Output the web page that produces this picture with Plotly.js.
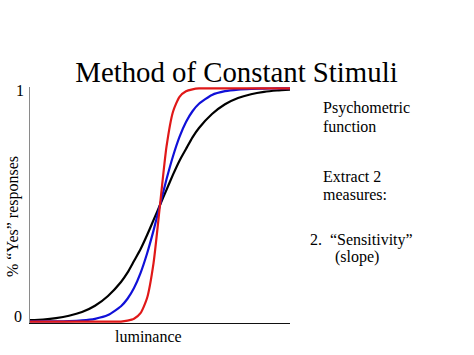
<!DOCTYPE html>
<html><head><meta charset="utf-8">
<script src="https://cdn.plot.ly/plotly-3.0.1.min.js"></script>
<style>html,body{margin:0;padding:0;background:#fff}#chart{width:474px;height:355px}</style>
</head><body><div id="chart"></div>
<script>
const titleText = 'Method of Constant Stimuli';
const xLabel = 'luminance';
const yLabel = '% \u201CYes\u201D responses';
const tickValues = [0, 1];
const tickLabels = ['0', '1'];
const luminance = [0,0.5,1,1.5,2,2.5,3,3.5,3.75,4,4.25,4.5,4.75,5,5.25,5.5,5.75,6,6.25,6.5,7,7.5,8,8.5,9,9.5,10];
const blackCurve = [0.006,0.009,0.015,0.025,0.041,0.068,0.11,0.17,0.21,0.26,0.31,0.37,0.435,0.5,0.565,0.63,0.69,0.74,0.79,0.83,0.89,0.932,0.959,0.975,0.985,0.991,0.995];
const blueCurve = [0.001,0.001,0.001,0.002,0.005,0.012,0.028,0.066,0.098,0.144,0.208,0.291,0.39,0.5,0.61,0.709,0.792,0.856,0.902,0.934,0.972,0.988,0.995,0.998,0.999,1,1];
const redCurve = [0,0,0,0,0,0,0,0,0.004,0.012,0.036,0.1,0.25,0.5,0.75,0.9,0.964,0.988,0.996,1,1,1,1,1,1,1,1];
const sideLines = ['Psychometric', 'function', 'Extract 2', 'measures:', '2.  \u201CSensitivity\u201D', '(slope)'];

const W = 474, H = 355;
const serif = '"Liberation Serif", "Times New Roman", serif';
const sidePos = [[320.5,107.5],[320.5,126],[320.5,176],[320.5,194.5],[308,239.5],[332.5,256.5]];

function curve(y, color) {
  return {x: luminance, y: y, type: 'scatter', mode: 'lines',
    line: {color: color, width: 2.2, shape: 'spline', smoothing: 0.6},
    hoverinfo: 'skip', showlegend: false};
}
const traces = [curve(blackCurve, '#000000'), curve(blueCurve, '#1010d8'), curve(redCurve, '#e01818')];

const annotations = [];
sideLines.forEach((t, i) => annotations.push({
  text: t, xref: 'paper', yref: 'paper', showarrow: false,
  x: (sidePos[i][0] - 30) / 260, y: (323 - sidePos[i][1]) / 236,
  xanchor: 'left', yanchor: 'middle',
  font: {family: serif, size: 16, color: '#000'}
}));
tickValues.forEach((v, i) => annotations.push({
  text: tickLabels[i], xref: 'paper', yref: 'y', showarrow: false,
  x: 0, y: v, xanchor: 'right', yanchor: 'middle',
  xshift: i === 0 ? -6 : -4, yshift: i === 0 ? 5 : -2,
  font: {family: serif, size: 16, color: '#000'}
}));
annotations.push({text: xLabel, xref: 'paper', yref: 'paper', showarrow: false,
  x: (148 - 30) / 260, y: (323 - 336) / 236, xanchor: 'center', yanchor: 'middle',
  font: {family: serif, size: 16, color: '#000'}});
annotations.push({text: yLabel, xref: 'paper', yref: 'paper', showarrow: false, textangle: -90,
  x: (12.5 - 30) / 260, y: (323 - 216.5) / 236, xanchor: 'center', yanchor: 'middle',
  font: {family: serif, size: 16, color: '#000'}});

const layout = {
  width: W, height: H,
  margin: {l: 30, r: W - 290, t: 87, b: H - 323, pad: 0},
  paper_bgcolor: '#fff', plot_bgcolor: '#fff',
  title: {text: titleText, font: {family: serif, size: 28.8, color: '#000'},
    x: 236.5 / W, xref: 'container', xanchor: 'center',
    y: 1 - 71.5 / H, yref: 'container', yanchor: 'middle'},
  xaxis: {range: [0, 10], showgrid: false, zeroline: false, showticklabels: false, ticks: '',
    showline: true, linecolor: '#111', linewidth: 1, fixedrange: true},
  yaxis: {range: [-0.006, 1.006], showgrid: false, zeroline: false, showticklabels: false, ticks: '',
    showline: true, linecolor: '#8a8a8a', linewidth: 1, fixedrange: true},
  annotations: annotations
};
Plotly.newPlot('chart', traces, layout, {displayModeBar: false, staticPlot: true});
</script>
</body></html>
